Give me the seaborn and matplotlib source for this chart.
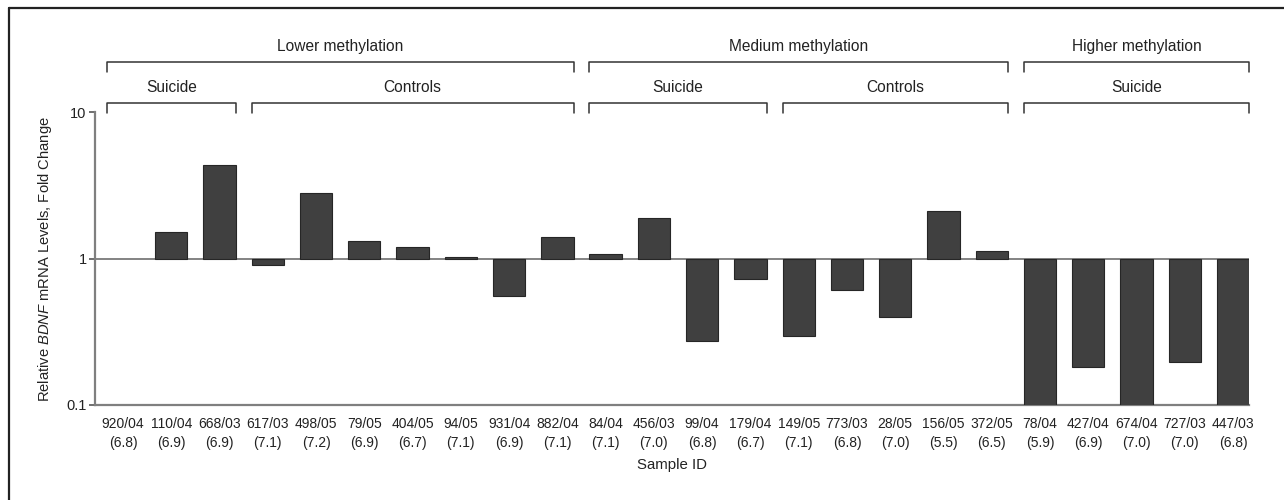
import matplotlib
matplotlib.use("Agg")
import matplotlib.pyplot as plt
from matplotlib.lines import Line2D
import numpy as np
import pandas as pd
import seaborn as sns

# Sample IDs with RNA integrity numbers, and relative BDNF expression (fold change)
sample_ids = ["920/04", "110/04", "668/03", "617/03", "498/05", "79/05", "404/05",
              "94/05", "931/04", "882/04", "84/04", "456/03", "99/04", "179/04",
              "149/05", "773/03", "28/05", "156/05", "372/05", "78/04", "427/04",
              "674/04", "727/03", "447/03"]
rin_values = ["6.8", "6.9", "6.9", "7.1", "7.2", "6.9", "6.7", "7.1", "6.9", "7.1",
              "7.1", "7.0", "6.8", "6.7", "7.1", "6.8", "7.0", "5.5", "6.5", "5.9",
              "6.9", "7.0", "7.0", "6.8"]
fold_change = [1.0, 1.52, 4.38, 0.90, 2.81, 1.33, 1.21, 1.03, 0.556, 1.40,
               1.08, 1.91, 0.274, 0.73, 0.297, 0.611, 0.40, 2.12, 1.12, 0.08,
               0.182, 0.08, 0.196, 0.08]

# Grouping brackets: (label, first sample index, last sample index)
methylation_groups = [("Lower methylation", 0, 9),
                      ("Medium methylation", 10, 18),
                      ("Higher methylation", 19, 23)]
subject_groups = [("Suicide", 0, 2), ("Controls", 3, 9),
                  ("Suicide", 10, 13), ("Controls", 14, 18),
                  ("Suicide", 19, 23)]

sns.set_theme(style="white")
plt.rcParams["font.family"] = ["Liberation Sans", "DejaVu Sans"]
plt.rcParams["mathtext.fontset"] = "custom"
plt.rcParams["mathtext.rm"] = "Liberation Sans"
plt.rcParams["mathtext.it"] = "Liberation Sans:italic"

df = pd.DataFrame({
    "label": [f"{s}\n({r})" for s, r in zip(sample_ids, rin_values)],
    "fold": fold_change,
})

fig = plt.figure(figsize=(12.84, 5.0), dpi=100)
ax = fig.add_axes([0.074, 0.19, 0.899, 0.5854])

bar_color = "#404040"
sns.barplot(data=df, x="label", y="fold", color=bar_color, saturation=1,
            width=0.67, edgecolor="#262626", linewidth=0.8, ax=ax, zorder=3)

# Bars grow up or down from the 1-fold baseline
for patch, val in zip(ax.patches, fold_change):
    patch.set_y(1.0)
    patch.set_height(val - 1.0)
    if val == 1.0:
        patch.set_linewidth(0)

ax.set_yscale("log")
ax.set_ylim(0.1, 10)
ax.set_xlim(-0.58, len(sample_ids) - 1 + 0.337)
ax.axhline(1.0, color="#7a7a7a", lw=1.3, zorder=2)

ax.set_yticks([0.1, 1, 10])
ax.set_yticklabels(["0.1", "1", "10"])
ax.yaxis.set_minor_locator(matplotlib.ticker.NullLocator())
ax.tick_params(axis="y", which="major", left=True, length=4, width=1.2,
               color="#555555", labelsize=10.5, pad=2, labelcolor="#222222")
ax.tick_params(axis="x", bottom=False, labelsize=10, pad=3, labelcolor="#222222")
for t in ax.get_xticklabels():
    t.set_linespacing(1.4)

for side in ["top", "right"]:
    ax.spines[side].set_visible(False)
for side in ["left", "bottom"]:
    ax.spines[side].set_color("#7f7f7f")
    ax.spines[side].set_linewidth(1.6)

ax.set_xlabel("Sample ID", fontsize=10.8, labelpad=6, color="#222222")
ax.set_ylabel(r"Relative $\mathit{BDNF}$ mRNA Levels, Fold Change", fontsize=10.6,
              labelpad=9, color="#222222")

# Brackets above the plot
trans = ax.get_xaxis_transform()
half = 0.67 / 2


def bracket(label, i0, i1, y_line, y_tick, y_text):
    x0, x1 = i0 - half, i1 + half
    ax.add_line(Line2D([x0, x0, x1, x1], [y_tick, y_line, y_line, y_tick],
                       transform=trans, color="#333333", lw=1.1, clip_on=False))
    ax.text((x0 + x1) / 2, y_text, label, transform=trans, ha="center",
            va="center", fontsize=11.2, color="#222222")


for name, a, b in methylation_groups:
    bracket(name, a, b, 1.173, 1.139, 1.2236)
for name, a, b in subject_groups:
    bracket(name, a, b, 1.032, 0.997, 1.0854)

# Panel frame (top and left edges)
fig.add_artist(Line2D([0.007, 1.0], [0.985, 0.985], transform=fig.transFigure,
                      color="#222222", lw=1.6))
fig.add_artist(Line2D([0.007, 0.007], [0.0, 0.985], transform=fig.transFigure,
                      color="#222222", lw=1.6))

fig.savefig("out.png", dpi=100)
